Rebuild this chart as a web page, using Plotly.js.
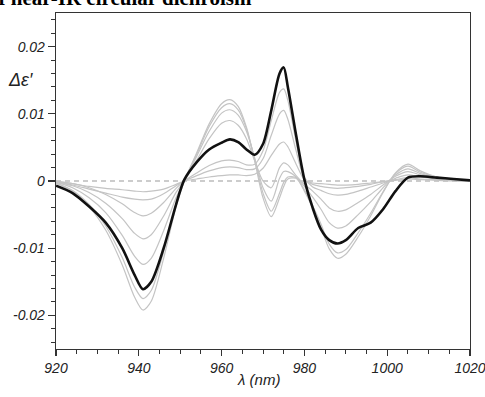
<!DOCTYPE html>
<html>
<head>
<meta charset="utf-8">
<script src="https://cdn.plot.ly/plotly-3.0.1.min.js"></script>
<style>html,body{margin:0;padding:0;background:#fff}#chart{width:485px;height:397px}</style>
</head>
<body>
<div id="chart"></div>
<script>
const wavelength = [920, 924, 928, 932, 936, 939, 941, 943, 946, 949, 951, 954, 957, 960, 962, 964, 966, 968, 970, 972, 974, 975, 976, 978, 980, 982, 984, 986, 988, 990, 993, 996, 999, 1002, 1005, 1008, 1012, 1016, 1020];

const blackSeries = [-0.0007, -0.0018, -0.0038, -0.0062, -0.0100, -0.0140, -0.0161, -0.0150, -0.0100, -0.0035, 0.0002, 0.0028, 0.0047, 0.0057, 0.0062, 0.0058, 0.0047, 0.0039, 0.0055, 0.0105, 0.0160, 0.0169, 0.0140, 0.0068, 0.0002, -0.0040, -0.0072, -0.0088, -0.0093, -0.0088, -0.0070, -0.0062, -0.0042, -0.0015, 0.0005, 0.0007, 0.0005, 0.0003, 0.0001];

const gray1 = [0.0000, -0.0004, -0.0008, -0.0011, -0.0013, -0.0015, -0.0016, -0.0015, -0.0012, -0.0005, 0.0000, 0.0003, 0.0006, 0.0008, 0.0009, 0.0009, 0.0008, 0.0010, 0.0019, 0.0038, 0.0055, 0.0058, 0.0051, 0.0025, 0.0002, -0.0003, -0.0004, -0.0005, -0.0006, -0.0006, -0.0005, -0.0003, -0.0001, 0.0001, 0.0003, 0.0002, 0.0001, 0.0000, 0.0000];
const gray2 = [-0.0001, -0.0006, -0.0012, -0.0018, -0.0024, -0.0027, -0.0028, -0.0027, -0.0019, -0.0007, 0.0000, 0.0008, 0.0015, 0.0020, 0.0021, 0.0020, 0.0017, 0.0018, 0.0033, 0.0068, 0.0100, 0.0105, 0.0092, 0.0045, 0.0004, -0.0005, -0.0008, -0.0010, -0.0011, -0.0010, -0.0008, -0.0005, -0.0001, 0.0002, 0.0005, 0.0003, 0.0002, 0.0001, 0.0000];
const gray3 = [-0.0001, -0.0004, -0.0010, -0.0020, -0.0034, -0.0047, -0.0052, -0.0048, -0.0032, -0.0011, 0.0000, 0.0012, 0.0023, 0.0030, 0.0031, 0.0029, 0.0024, 0.0025, 0.0045, 0.0090, 0.0132, 0.0137, 0.0120, 0.0058, 0.0005, -0.0009, -0.0014, -0.0019, -0.0021, -0.0020, -0.0015, -0.0009, -0.0003, 0.0004, 0.0009, 0.0006, 0.0003, 0.0001, 0.0000];
const gray4 = [-0.0002, -0.0007, -0.0017, -0.0033, -0.0056, -0.0078, -0.0086, -0.0080, -0.0052, -0.0017, 0.0000, 0.0031, 0.0063, 0.0086, 0.0090, 0.0083, 0.0063, 0.0030, 0.0000, -0.0010, 0.0020, 0.0027, 0.0024, 0.0008, -0.0005, -0.0015, -0.0027, -0.0040, -0.0045, -0.0043, -0.0032, -0.0020, -0.0006, 0.0007, 0.0014, 0.0009, 0.0004, 0.0002, 0.0001];
const gray5 = [-0.0002, -0.0010, -0.0025, -0.0047, -0.0081, -0.0112, -0.0124, -0.0115, -0.0074, -0.0025, 0.0000, 0.0037, 0.0074, 0.0101, 0.0106, 0.0098, 0.0074, 0.0034, -0.0010, -0.0030, 0.0004, 0.0014, 0.0014, 0.0006, -0.0008, -0.0024, -0.0042, -0.0062, -0.0070, -0.0067, -0.0050, -0.0031, -0.0010, 0.0009, 0.0018, 0.0011, 0.0005, 0.0002, 0.0001];
const gray6 = [-0.0003, -0.0014, -0.0035, -0.0067, -0.0114, -0.0158, -0.0175, -0.0163, -0.0105, -0.0035, 0.0000, 0.0040, 0.0081, 0.0109, 0.0115, 0.0106, 0.0078, 0.0032, -0.0018, -0.0045, -0.0018, -0.0002, 0.0006, 0.0005, -0.0013, -0.0037, -0.0064, -0.0094, -0.0107, -0.0102, -0.0077, -0.0048, -0.0016, 0.0011, 0.0022, 0.0013, 0.0006, 0.0003, 0.0001];
const gray7 = [-0.0003, -0.0015, -0.0038, -0.0073, -0.0125, -0.0173, -0.0192, -0.0179, -0.0115, -0.0038, 0.0000, 0.0042, 0.0085, 0.0115, 0.0121, 0.0111, 0.0080, 0.0030, -0.0025, -0.0053, -0.0025, -0.0008, 0.0003, 0.0004, -0.0015, -0.0040, -0.0069, -0.0101, -0.0115, -0.0109, -0.0083, -0.0052, -0.0017, 0.0012, 0.0025, 0.0015, 0.0006, 0.0003, 0.0001];

const grayList = [gray1, gray2, gray3, gray4, gray5, gray6, gray7];

const xTickVals = [920, 940, 960, 980, 1000, 1020];
const xTickText = ['920', '940', '960', '980', '1000', '1020'];
const yTickVals = [-0.02, -0.01, 0, 0.01, 0.02];
const yTickText = ['-0.02', '-0.01', '0', '0.01', '0.02'];

const traces = [];
grayList.forEach(g => traces.push({
  x: wavelength, y: g, type: 'scatter', mode: 'lines',
  line: {color: '#c4c4c4', width: 1.2, shape: 'spline', smoothing: 0.8},
  hoverinfo: 'skip'
}));
traces.push({
  x: wavelength, y: blackSeries, type: 'scatter', mode: 'lines',
  line: {color: '#111111', width: 2.6, shape: 'spline', smoothing: 0.8},
  hoverinfo: 'skip'
});

const sansItalic = '"Liberation Sans", Arial, sans-serif';
const tickFont = {family: sansItalic, size: 14, color: '#222', style: 'italic'};

const layout = {
  width: 485, height: 397,
  margin: {l: 56, r: 15, t: 13, b: 48},
  paper_bgcolor: '#fff', plot_bgcolor: '#fff',
  showlegend: false,
  xaxis: {
    range: [920, 1020], tickmode: 'array', tickvals: xTickVals, ticktext: xTickText,
    ticks: 'outside', ticklen: 6, tickwidth: 1.2, tickcolor: '#333',
    minor: {dtick: 5, tick0: 920, ticks: 'outside', ticklen: 4, tickwidth: 1, tickcolor: '#333', showgrid: false},
    showline: true, linecolor: '#333', linewidth: 1.3, mirror: true,
    showgrid: false, zeroline: false, tickfont: tickFont, automargin: false,
    ticklabeloverflow: 'allow'
  },
  yaxis: {
    range: [-0.025, 0.025], tickmode: 'array', tickvals: yTickVals, ticktext: yTickText,
    ticks: 'outside', ticklen: 7, tickwidth: 1.2, tickcolor: '#333',
    minor: {dtick: 0.002, tick0: 0, ticks: 'outside', ticklen: 4, tickwidth: 1, tickcolor: '#333', showgrid: false},
    showline: true, linecolor: '#333', linewidth: 1.3, mirror: true,
    showgrid: false, zeroline: false, tickfont: tickFont, automargin: false,
    ticklabeloverflow: 'allow'
  },
  shapes: [{
    type: 'line', xref: 'paper', x0: 0, x1: 1, yref: 'y', y0: 0, y1: 0,
    line: {color: '#999', width: 1, dash: '5px,4px'}, layer: 'below'
  }],
  annotations: [
    {text: 'Δε′', xref: 'paper', yref: 'paper', x: -0.051, y: 0.80, xanchor: 'right', yanchor: 'middle',
     showarrow: false, font: {family: sansItalic, size: 18, color: '#222', style: 'italic'}},
    {text: 'λ (nm)', xref: 'paper', yref: 'paper', x: 0.49, y: -0.091, xanchor: 'center', yanchor: 'middle',
     showarrow: false, font: {family: sansItalic, size: 15, color: '#222', style: 'italic'}},
    {text: 'of near-IR circular dichroism', xref: 'paper', yref: 'paper', x: 0.478, y: 1.003, xanchor: 'right', yanchor: 'bottom',
     showarrow: false, font: {family: '"Liberation Serif", "Times New Roman", serif', size: 21, color: '#000', weight: 'bold'}}
  ]
};

Plotly.newPlot('chart', traces, layout, {staticPlot: true, displayModeBar: false});
</script>
</body>
</html>
